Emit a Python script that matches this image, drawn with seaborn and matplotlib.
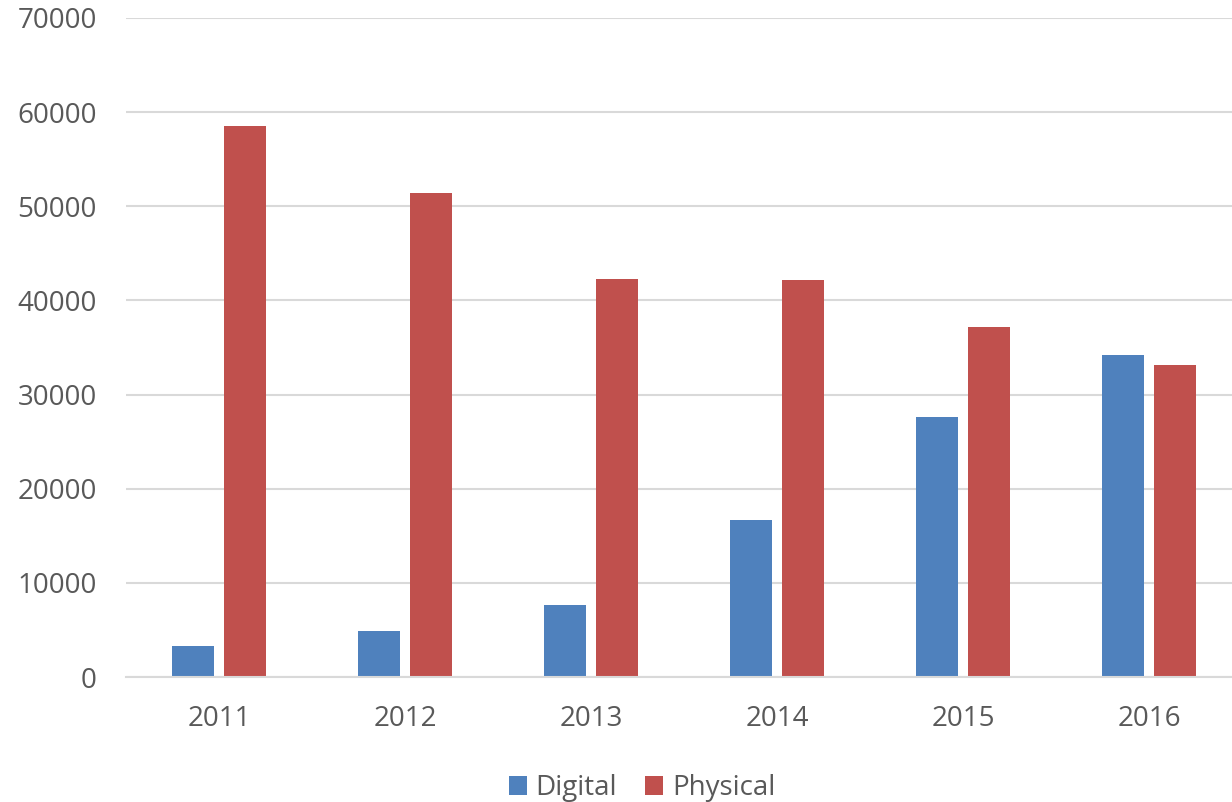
import matplotlib
matplotlib.use("Agg")
import matplotlib.pyplot as plt
import seaborn as sns
import pandas as pd
from matplotlib.patches import Patch

years = ["2011", "2012", "2013", "2014", "2015", "2016"]
digital = [3300, 4900, 7650, 16700, 27600, 34200]
physical = [58500, 51400, 42300, 42200, 37200, 33100]
series = ["Digital", "Physical"]
colors = ["#4F81BD", "#C0504D"]
yticks = [0, 10000, 20000, 30000, 40000, 50000, 60000, 70000]

df = pd.DataFrame({
    "Year": years * 2,
    "Value": digital + physical,
    "Series": [series[0]] * len(years) + [series[1]] * len(years),
})

sns.set_theme(style="white")
plt.rcParams["font.family"] = ["Open Sans", "DejaVu Sans"]

fig = plt.figure(figsize=(12.32, 8.02), dpi=100)
ax = fig.add_axes([126 / 1232, 125 / 802, 1116 / 1232, 659 / 802])

sns.barplot(data=df, x="Year", y="Value", hue="Series", palette=colors,
            width=0.56, gap=0.19, ax=ax, legend=False, linewidth=0,
            saturation=1)

ax.set_xlim(-0.5, 5.5)
ax.set_ylim(0, 70000)
ax.set_yticks(yticks)
ax.set_yticklabels([str(v) for v in yticks])
ax.yaxis.grid(True, color="#d9d9d9", linewidth=1.5)
ax.set_axisbelow(True)
for s in ["left", "right", "top"]:
    ax.spines[s].set_visible(False)
ax.spines["bottom"].set_color("#d9d9d9")
ax.spines["bottom"].set_linewidth(1.5)
ax.tick_params(axis="both", length=0, labelsize=20, labelcolor="#595959")
ax.tick_params(axis="y", pad=21)
ax.tick_params(axis="x", pad=20)
ax.set_xlabel("")
ax.set_ylabel("")

handles = [Patch(facecolor=c, edgecolor="none") for c in colors]
fig.legend(handles, series, loc="center", bbox_to_anchor=(642 / 1232, 1 - 788 / 802),
           ncol=2, frameon=False, fontsize=20, labelcolor="#595959",
           handlelength=0.65, handleheight=0.65, handletextpad=0.32, columnspacing=1.0)

fig.savefig("out.png", dpi=100)
